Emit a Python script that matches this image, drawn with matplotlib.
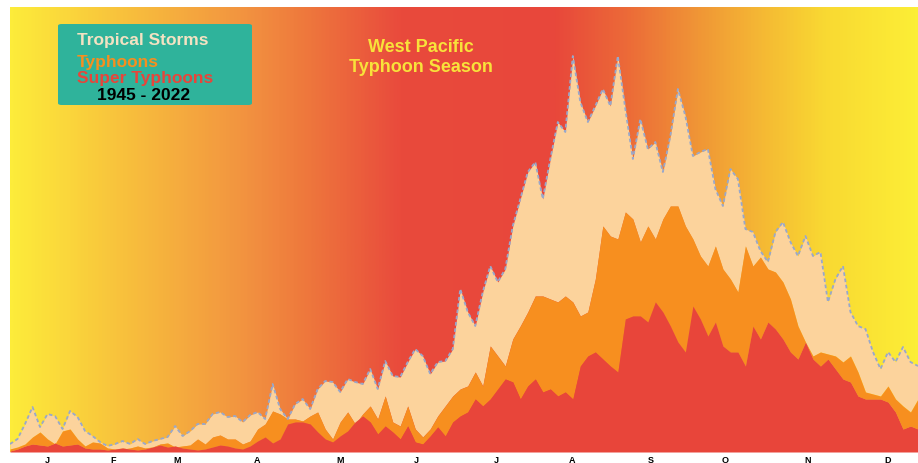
import numpy as np
import matplotlib
matplotlib.use("Agg")
import matplotlib.pyplot as plt
from matplotlib.colors import LinearSegmentedColormap
from matplotlib.patches import FancyBboxPatch

# day of year for every sample (read every 3 days off the chart)
days = np.arange(0, 364, 3)

# stacked envelope tops (arbitrary units)
top_all = [8, 13, 28, 45, 25, 38, 36, 23, 41, 35, 21, 16, 10, 6, 8, 11, 8, 13, 8, 11,
           13, 15, 26, 16, 21, 28, 28, 38, 40, 35, 36, 30, 37, 40, 33, 68, 43, 33, 48, 53,
           43, 63, 71, 70, 60, 73, 70, 68, 83, 63, 91, 76, 75, 90, 103, 96, 78, 90, 91, 103,
           163, 140, 126, 160, 186, 170, 183, 226, 253, 280, 290, 253, 293, 330, 320, 396, 350, 330, 346, 363,
           346, 396, 343, 293, 333, 303, 310, 280, 316, 363, 336, 296, 300, 303, 263, 246, 283, 273, 223, 220,
           201, 190, 220, 230, 210, 196, 216, 196, 200, 150, 173, 186, 140, 126, 123, 100, 83, 100, 90, 105,
           90, 86]
top_typhoon = [3, 5, 8, 15, 20, 13, 8, 21, 23, 13, 6, 10, 9, 4, 3, 3, 4, 6, 4, 5,
               8, 9, 5, 6, 7, 13, 8, 15, 17, 13, 13, 8, 11, 23, 28, 41, 38, 33, 33, 31,
               36, 40, 23, 13, 30, 40, 28, 38, 46, 33, 56, 30, 26, 46, 23, 15, 23, 36, 46, 56,
               63, 66, 80, 66, 106, 96, 86, 113, 126, 140, 156, 156, 153, 150, 156, 150, 136, 140, 173, 226,
               216, 213, 240, 233, 210, 226, 213, 233, 246, 246, 226, 213, 196, 186, 206, 183, 173, 160, 206, 186,
               195, 183, 180, 170, 153, 126, 110, 96, 100, 98, 96, 90, 96, 80, 60, 58, 56, 66, 53, 46,
               40, 53]
top_super = [1, 3, 6, 8, 7, 6, 9, 6, 7, 8, 4, 3, 3, 2, 3, 4, 3, 2, 3, 5,
             7, 5, 6, 4, 3, 2, 3, 5, 7, 6, 4, 3, 6, 11, 15, 9, 13, 28, 30, 30,
             28, 20, 13, 10, 16, 21, 30, 36, 30, 18, 26, 20, 13, 26, 10, 8, 16, 25, 16, 30,
             36, 40, 53, 46, 53, 63, 73, 70, 53, 66, 73, 60, 63, 56, 60, 53, 86, 96, 100, 93,
             86, 80, 133, 136, 136, 130, 150, 140, 126, 110, 100, 146, 133, 116, 130, 106, 100, 100, 86, 126,
             113, 130, 123, 113, 100, 93, 110, 93, 86, 93, 83, 73, 70, 56, 53, 53, 53, 50, 40, 23,
             26, 23]

months = ["J", "F", "M", "A", "M", "J", "J", "A", "S", "O", "N", "D"]
month_pos = [14.8, 41.2, 66.8, 98.8, 132, 162.4, 194.4, 224.8, 256, 286, 318.8, 351]

storm_col = "#fcd39c"
typhoon_col = "#f78f1f"
super_col = "#e8453a"

plt.rcParams["font.family"] = ["Liberation Sans", "DejaVu Sans"]

fig = plt.figure(figsize=(9.18, 4.64), dpi=100)
ax = fig.add_axes([10 / 918, 11 / 464, 908 / 918, 445 / 464])

# background gradient, yellow -> red -> yellow
bg = LinearSegmentedColormap.from_list("season", [
    (0.0, "#fdec3a"), (0.1, "#f9c93c"), (0.26, "#f29240"), (0.33, "#ee763c"),
    (0.43, "#e94a3c"), (0.6, "#e8473b"), (0.68, "#ec6a38"), (0.76, "#f09636"),
    (0.83, "#f5b934"), (0.9, "#f9d932"), (1.0, "#fcee36")])
ax.imshow(np.linspace(0, 1, 512).reshape(1, -1), extent=[0, 363, 0, 445],
          aspect="auto", cmap=bg, zorder=0)

ax.fill_between(days, top_typhoon, top_all, color=storm_col, lw=0, zorder=1)
ax.fill_between(days, top_super, top_typhoon, color=typhoon_col, lw=0, zorder=2)
ax.fill_between(days, 0, top_super, color=super_col, lw=0, zorder=3)
ax.plot(days, top_all, color="#98a8cc", lw=1.3, ls=(0, (2, 1.5)), zorder=4)

ax.set_xlim(0, 363)
ax.set_ylim(0, 445)
ax.set_yticks([])
ax.set_xticks(month_pos, months, fontsize=6.5, fontweight="bold")
ax.tick_params(axis="x", length=0, pad=2)
for s in ax.spines.values():
    s.set_visible(False)

# legend box
box = FancyBboxPatch((58 / 918, 1 - 106 / 464), 194 / 918, 81 / 464,
                     boxstyle="round,pad=0,rounding_size=0.004",
                     transform=fig.transFigure, facecolor="#2fb39b", edgecolor="none")
fig.add_artist(box)
fig.text(77 / 918, 1 - 41 / 464, "Tropical Storms", color="#f4e2c2", fontsize=12.5,
         fontweight="bold", va="center")
fig.text(77 / 918, 1 - 62 / 464, "Typhoons", color=typhoon_col, fontsize=12.5,
         fontweight="bold", va="center")
fig.text(77 / 918, 1 - 79 / 464, "Super Typhoons", color=super_col, fontsize=12.5,
         fontweight="bold", va="center")
fig.text(97 / 918, 1 - 95 / 464, "1945 - 2022", color="black", fontsize=12.5,
         fontweight="bold", va="center")

# title
fig.text(421 / 918, 1 - 48 / 464, "West Pacific", color="#f8e23a", fontsize=13,
         fontweight="bold", ha="center", va="center")
fig.text(421 / 918, 1 - 68 / 464, "Typhoon Season", color="#f8e23a", fontsize=13,
         fontweight="bold", ha="center", va="center")

fig.savefig("out.png", dpi=100, facecolor="white")
